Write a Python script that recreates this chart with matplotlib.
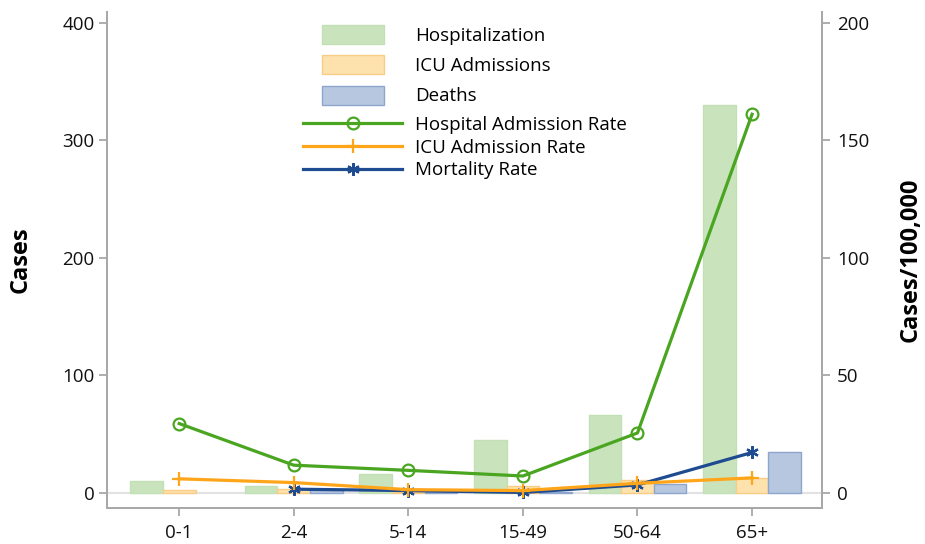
import numpy as np
import matplotlib
matplotlib.use("Agg")
import matplotlib.pyplot as plt
from matplotlib.patches import Patch
from matplotlib.lines import Line2D

plt.rcParams['font.family'] = ['Open Sans', 'DejaVu Sans']

age_groups = ["0-1", "2-4", "5-14", "15-49", "50-64", "65+"]
hosp_cases = [10, 6, 16, 45, 66, 330]
icu_cases = [2.5, 3, 1, 6, 11, 13]
deaths = [0, 2.5, 1, 1, 8, 35]
hosp_rate = [29.5, 11.8, 9.6, 7.2, 25.5, 161]
icu_rate = [6.0, 4.4, 1.4, 1.0, 4.1, 6.4]
mort_rate = [np.nan, 1.6, 1.0, 0.2, 3.4, 17.2]

fig = plt.figure(figsize=(9.25, 5.44), dpi=100)
ax = fig.add_axes([0.1157, 0.0662, 0.8886 - 0.1157, 0.978 - 0.0662])
ax2 = ax.twinx()

x = np.arange(len(age_groups))
w = 0.285
gfill, gedge = '#c9e4bd', '#c2e0b4'
ofill, oedge = '#fde2ad', '#f8cd85'
bfill, bedge = '#b8c7e0', '#8ea6cc'

def edges(vals, c):
    return [c if v > 0 else 'none' for v in vals]

ax.axhline(0, color='#e2e2e2', lw=1.5, zorder=0)
ax.bar(x - w, hosp_cases, w, color=gfill, edgecolor=edges(hosp_cases, gedge), lw=1, zorder=2)
ax.bar(x, icu_cases, w, color=ofill, edgecolor=edges(icu_cases, oedge), lw=1, zorder=2)
ax.bar(x + w, deaths, w, color=bfill, edgecolor=edges(deaths, bedge), lw=1, zorder=2)

gline, oline, bline = '#4aa520', '#ffa51a', '#1f4b91'
lw = 2.3
ax2.plot(x, hosp_rate, color=gline, lw=lw, marker='o', ms=8.5, mfc='none', mec=gline, mew=1.6, zorder=3)
ax2.plot(x, mort_rate, color=bline, lw=lw, marker=(6, 2, 0), ms=9, mec=bline, mew=1.6, zorder=3)
ax2.plot(x, icu_rate, color=oline, lw=lw, marker='+', ms=10, mec=oline, mew=1.6, zorder=4)

ax.set_xlim(-0.63, 5.61)
ax.set_ylim(-12.8, 409)
ax2.set_ylim(-6.4, 204.5)
ax.set_yticks([0, 100, 200, 300, 400])
ax2.set_yticks([0, 50, 100, 150, 200])
ax.set_xticks(x)
ax.set_xticklabels(age_groups)

fs = 13.5
spc = '#a8a8a8'
for a in (ax, ax2):
    a.spines['top'].set_visible(False)
    for s in ('left', 'right', 'bottom'):
        a.spines[s].set_color(spc)
        a.spines[s].set_linewidth(1.3)
    a.tick_params(colors=spc, labelcolor='#111111', labelsize=fs, width=1.3, length=6)
ax.tick_params(axis='x', pad=5.5)
ax.tick_params(axis='y', pad=3)
ax2.tick_params(axis='y', pad=5)

ax.set_ylabel("Cases", fontsize=17, fontweight='bold', labelpad=21)
ax2.set_ylabel("Cases/100,000", fontsize=17, fontweight='bold', labelpad=21)

bar_handles = [Patch(facecolor=gfill, edgecolor=gedge), Patch(facecolor=ofill, edgecolor=oedge),
               Patch(facecolor=bfill, edgecolor=bedge)]
leg1 = fig.legend(bar_handles, ["Hospitalization", "ICU Admissions", "Deaths"],
                  loc='upper left', bbox_to_anchor=(322 / 925, 1 - 25 / 544), frameon=False,
                  fontsize=fs, handlelength=3.3, handleheight=1.2, handletextpad=1.65,
                  labelspacing=0.55, borderpad=0, borderaxespad=0)
line_handles = [Line2D([], [], color=gline, lw=lw, marker='o', ms=8.5, mfc='none', mew=1.6),
                Line2D([], [], color=oline, lw=lw, marker='+', ms=10, mew=1.6),
                Line2D([], [], color=bline, lw=lw, marker=(6, 2, 0), ms=9, mew=1.6)]
leg2 = fig.legend(line_handles, ["Hospital Admission Rate", "ICU Admission Rate", "Mortality Rate"],
                  loc='upper left', bbox_to_anchor=(303 / 925, 1 - 116 / 544), frameon=False,
                  fontsize=fs, handlelength=5.28, handletextpad=0.69,
                  labelspacing=0.25, borderpad=0, borderaxespad=0)

fig.savefig("out.png", dpi=100)
